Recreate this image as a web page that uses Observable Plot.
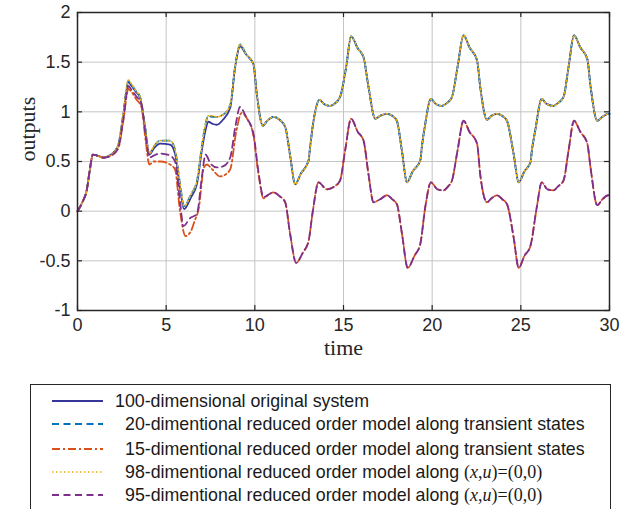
<!DOCTYPE html>
<html>
<head>
<meta charset="utf-8">
<script src="https://cdn.jsdelivr.net/npm/d3@7"></script>
<script src="https://cdn.jsdelivr.net/npm/@observablehq/plot@0.6"></script>
<style>
  html, body { margin: 0; padding: 0; background: #fff; overflow: hidden; }
  #wrap { position: relative; width: 634px; height: 509px; }
  #legend { position: absolute; left: 30px; top: 384px; width: 579px; height: 150px;
            border: 1px solid #262626; background: #fff; font-family: "Liberation Sans", Arial, sans-serif;
            font-size: 17.8px; color: #1a1a1a; }
  .row { position: absolute; left: 0; height: 22px; white-space: pre; width: 575px; }
  .row svg { position: absolute; left: 21px; top: 0; }
  .row span.t { position: absolute; top: 0; line-height: 22px; }
  .m { font-family: "Liberation Serif", "Times New Roman", serif; font-size: 18px; }
</style>
</head>
<body>
<div id="wrap"><div id="chart"></div><div id="legend"></div></div>
<script>
// ---- tick values ----
const xTicks = [0, 5, 10, 15, 20, 25, 30];
const yTicks = [-1, -0.5, 0, 0.5, 1, 1.5, 2];

// ---- series names ----
const seriesNames = [
  "100-dimensional original system",
  "20-dimentional reduced order model along transient states",
  "15-dimentional reduced order model along transient states",
  "98-dimentional reduced order model along ",
  "95-dimentional reduced order model along "
];

// ---- 100-dimensional original system ----
const tOrig = [0,0.3,0.52,0.7,0.86,1.1,1.46,1.9,2.3,2.59,2.87,3.05,3.3,3.53,3.81,4.05,4.3,4.66,5.22,5.5,5.78,6.01,6.4,6.73,7.01,7.2,7.38,7.6,7.86,8.2,8.61,8.89,9.17,9.5,9.92,10.11,10.45,10.7,11.05,11.4,11.71,12.0,12.27,12.6,13.03,13.12,13.31,13.65,13.9,14.25,14.55,14.81,15.15,15.43,15.8,16.13,16.41,16.79,17.07,17.45,17.75,18.01,18.3,18.58,18.9,19.33,19.42,19.61,19.93,20.2,20.55,20.85,21.12,21.43,21.77,22.1,22.53,22.71,23.09,23.35,23.66,23.95,24.22,24.59,24.88,25.2,25.54,25.63,25.81,26.18,26.45,26.84,27.1,27.41,27.69,28.0,28.35,28.75,28.93,29.31,29.6,29.93,30];
const vOrig = [0,0.1,0.21,0.42,0.57,0.56,0.54,0.57,0.66,0.98,1.30,1.26,1.2,1.14,0.84,0.57,0.63,0.68,0.67,0.58,0.24,0.02,0.14,0.27,0.61,0.8,0.9,0.88,0.87,0.92,1.04,1.45,1.66,1.58,1.48,1.18,0.86,0.91,0.95,0.92,0.85,0.55,0.27,0.38,0.51,0.65,0.91,1.12,1.08,1.06,1.09,1.15,1.45,1.76,1.64,1.55,1.25,0.93,0.96,0.98,0.96,0.91,0.6,0.29,0.4,0.51,0.65,0.88,1.13,1.08,1.06,1.09,1.15,1.45,1.77,1.65,1.52,1.25,0.92,0.96,0.98,0.96,0.91,0.58,0.29,0.4,0.49,0.62,0.81,1.13,1.08,1.06,1.09,1.15,1.45,1.77,1.65,1.53,1.26,0.91,0.95,0.98,0.98];

// ---- 20-dimensional ROM along transient states ----
const t20 = tOrig;
const v20 = [0,0.1,0.21,0.42,0.57,0.56,0.54,0.57,0.67,0.99,1.31,1.27,1.21,1.15,0.85,0.58,0.65,0.71,0.71,0.62,0.28,0.05,0.17,0.3,0.65,0.86,0.96,0.95,0.95,0.97,1.07,1.46,1.68,1.58,1.48,1.18,0.86,0.91,0.95,0.92,0.85,0.55,0.27,0.38,0.51,0.65,0.91,1.12,1.08,1.06,1.09,1.15,1.45,1.76,1.64,1.55,1.25,0.93,0.96,0.98,0.96,0.91,0.6,0.29,0.4,0.51,0.65,0.88,1.13,1.08,1.06,1.09,1.15,1.45,1.77,1.65,1.52,1.25,0.92,0.96,0.98,0.96,0.91,0.58,0.29,0.4,0.49,0.62,0.81,1.13,1.08,1.06,1.09,1.15,1.45,1.77,1.65,1.53,1.26,0.91,0.95,0.98,0.98];

// ---- 98-dimensional ROM along (x,u)=(0,0) ----
const t98 = tOrig;
const v98 = [0,0.1,0.21,0.42,0.57,0.56,0.54,0.57,0.67,1.0,1.32,1.28,1.21,1.15,0.85,0.58,0.65,0.71,0.71,0.62,0.28,0.05,0.17,0.3,0.65,0.86,0.96,0.96,0.95,0.97,1.07,1.46,1.68,1.58,1.48,1.18,0.86,0.91,0.95,0.92,0.85,0.55,0.27,0.38,0.51,0.65,0.91,1.12,1.08,1.06,1.09,1.15,1.45,1.76,1.64,1.55,1.25,0.93,0.96,0.98,0.96,0.91,0.6,0.29,0.4,0.51,0.65,0.88,1.13,1.08,1.06,1.09,1.15,1.45,1.77,1.65,1.52,1.25,0.92,0.96,0.98,0.96,0.91,0.58,0.29,0.4,0.49,0.62,0.81,1.13,1.08,1.06,1.09,1.15,1.45,1.77,1.65,1.53,1.26,0.91,0.95,0.98,0.98];

// ---- 95-dimensional ROM along (x,u)=(0,0) ----
const t95 = [0,0.3,0.52,0.7,0.86,1.1,1.46,1.9,2.3,2.59,2.87,3.05,3.3,3.6,3.85,4.05,4.3,4.66,5.22,5.5,5.78,5.97,6.35,6.73,7.01,7.22,7.5,7.86,8.2,8.61,8.9,9.17,9.5,9.92,10.2,10.49,10.8,11.05,11.4,11.71,11.99,12.33,12.7,13.03,13.27,13.59,14.06,14.5,14.81,15.09,15.43,15.8,16.13,16.41,16.69,17.07,17.45,17.75,18.01,18.3,18.62,19.0,19.33,19.61,19.93,20.3,20.64,20.9,21.12,21.43,21.77,22.1,22.53,22.71,23.09,23.35,23.66,23.95,24.22,24.59,24.88,25.2,25.54,25.9,26.18,26.5,26.84,27.1,27.41,27.69,28.0,28.35,28.75,28.93,29.31,29.6,29.93,30];
const v95 = [0,0.1,0.21,0.42,0.57,0.56,0.54,0.56,0.64,0.93,1.26,1.22,1.16,1.08,0.75,0.54,0.56,0.58,0.56,0.5,0.1,-0.15,-0.07,-0.03,0.34,0.57,0.48,0.44,0.45,0.54,0.85,1.05,0.95,0.78,0.4,0.14,0.17,0.19,0.15,0.09,-0.23,-0.52,-0.42,-0.3,0.0,0.29,0.22,0.25,0.31,0.61,0.93,0.8,0.71,0.37,0.09,0.12,0.16,0.12,0.07,-0.23,-0.57,-0.45,-0.33,0.04,0.29,0.22,0.21,0.25,0.31,0.61,0.91,0.8,0.68,0.37,0.09,0.13,0.16,0.12,0.07,-0.26,-0.57,-0.45,-0.35,0.04,0.29,0.22,0.21,0.25,0.31,0.61,0.91,0.8,0.68,0.44,0.06,0.12,0.16,0.16];

// ---- 15-dimensional ROM along transient states ----
const t15 = [0,0.3,0.52,0.7,0.86,1.1,1.46,1.9,2.3,2.59,2.87,3.05,3.3,3.6,3.85,4.05,4.3,4.66,5.22,5.5,5.78,6.09,6.4,6.6,6.84,7.13,7.3,7.6,8.04,8.25,8.61,8.95,9.26,9.6,9.92,10.2,10.49,10.8,11.05,11.4,11.71,11.99,12.33,12.7,13.03,13.27,13.59,14.06,14.5,14.81,15.09,15.43,15.8,16.13,16.41,16.69,17.07,17.45,17.75,18.01,18.3,18.62,19.0,19.33,19.61,19.93,20.3,20.64,20.9,21.12,21.43,21.77,22.1,22.53,22.71,23.09,23.35,23.66,23.95,24.22,24.59,24.88,25.2,25.54,25.9,26.18,26.5,26.84,27.1,27.41,27.69,28.0,28.35,28.75,28.93,29.31,29.6,29.93,30];
const v15 = [0,0.1,0.21,0.42,0.57,0.56,0.54,0.56,0.63,0.92,1.23,1.2,1.13,1.05,0.7,0.47,0.5,0.5,0.47,0.42,0.0,-0.25,-0.2,-0.1,0.03,0.44,0.47,0.42,0.35,0.36,0.42,0.8,0.99,0.92,0.76,0.38,0.13,0.17,0.19,0.15,0.09,-0.23,-0.52,-0.42,-0.3,0.0,0.29,0.22,0.25,0.31,0.61,0.93,0.8,0.71,0.37,0.09,0.12,0.16,0.12,0.07,-0.23,-0.57,-0.45,-0.33,0.04,0.29,0.22,0.21,0.25,0.31,0.61,0.91,0.8,0.68,0.37,0.09,0.13,0.16,0.12,0.07,-0.26,-0.57,-0.45,-0.35,0.04,0.29,0.22,0.21,0.25,0.31,0.61,0.91,0.8,0.68,0.44,0.06,0.12,0.16,0.16];

const colors = ["#35359a", "#0072BD", "#D95319", "#EDB120", "#7E2F8E"];
const dashes = [null, "7,4.5", "8,3,2,3", "1.5,2.5", "7,4.5"];

const toRows = (t, v) => t.map((d, i) => ({t: d, v: v[i]}));
const series = [toRows(tOrig, vOrig), toRows(t20, v20), toRows(t15, v15), toRows(t98, v98), toRows(t95, v95)];

const W = 634, H = 370, mL = 77, mR = 25, mT = 12, mB = 60;
const innerH = H - mT - mB, innerW = W - mL - mR;
const tickLen = 5;

const lineMarks = series.map((rows, i) => Plot.line(rows, {
  x: "t", y: "v", stroke: colors[i], strokeWidth: i === 3 ? 1.6 : 1.8,
  strokeDasharray: dashes[i] || undefined, curve: "monotone-x"
}));

const chart = Plot.plot({
  width: W, height: H,
  marginLeft: mL, marginRight: mR, marginTop: mT, marginBottom: mB,
  x: {domain: [0, 30]},
  y: {domain: [-1, 2]},
  style: {fontFamily: "Liberation Sans, Arial, sans-serif", fontSize: "18px", color: "#262626", background: "#fff"},
  marks: [
    Plot.gridX(xTicks, {stroke: "#c4c4c4", strokeOpacity: 1, strokeWidth: 1}),
    Plot.gridY(yTicks, {stroke: "#c4c4c4", strokeOpacity: 1, strokeWidth: 1}),
    ...lineMarks,
    Plot.tickX(xTicks, {x: d => d, insetTop: innerH - tickLen, stroke: "#262626", strokeWidth: 1.2}),
    Plot.tickX(xTicks, {x: d => d, insetBottom: innerH - tickLen, stroke: "#262626", strokeWidth: 1.2}),
    Plot.tickY(yTicks, {y: d => d, insetRight: innerW - tickLen, stroke: "#262626", strokeWidth: 1.2}),
    Plot.tickY(yTicks, {y: d => d, insetLeft: innerW - tickLen, stroke: "#262626", strokeWidth: 1.2}),
    Plot.axisX(xTicks, {tickSize: 0, tickPadding: 8, label: null, tickFormat: d => String(d)}),
    Plot.axisY(yTicks, {tickSize: 0, tickPadding: 7, label: null, tickFormat: d => String(d)}),
    Plot.frame({stroke: "#262626", strokeWidth: 1.5}),
    Plot.text(["time"], {frameAnchor: "bottom", dy: 44, fontFamily: "Liberation Serif, serif", fontSize: 22, fill: "#262626"}),
    Plot.text(["outputs"], {frameAnchor: "left", dx: -50, rotate: -90, fontFamily: "Liberation Serif, serif", fontSize: 22, fill: "#262626"})
  ]
});
document.getElementById("chart").appendChild(chart);

// ---- legend ----
const legend = document.getElementById("legend");
const rowCenters = [16, 39, 64, 87, 110];
const textLeft = [84, 94, 94, 94, 94];
seriesNames.forEach((name, i) => {
  const row = document.createElement("div");
  row.className = "row";
  row.style.top = (rowCenters[i] - 11) + "px";
  const dash = dashes[i] ? ` stroke-dasharray="${dashes[i]}"` : "";
  row.innerHTML = `<svg width="52" height="22"><line x1="0" x2="51" y1="11" y2="11" stroke="${colors[i]}" stroke-width="${i===3?1.6:2}"${dash}/></svg>` +
    `<span class="t" style="left:${textLeft[i]}px">${name}${i >= 3 ? '<span class="m">(<i>x</i>,<i>u</i>)=(0,0)</span>' : ''}</span>`;
  legend.appendChild(row);
});
</script>
</body>
</html>
